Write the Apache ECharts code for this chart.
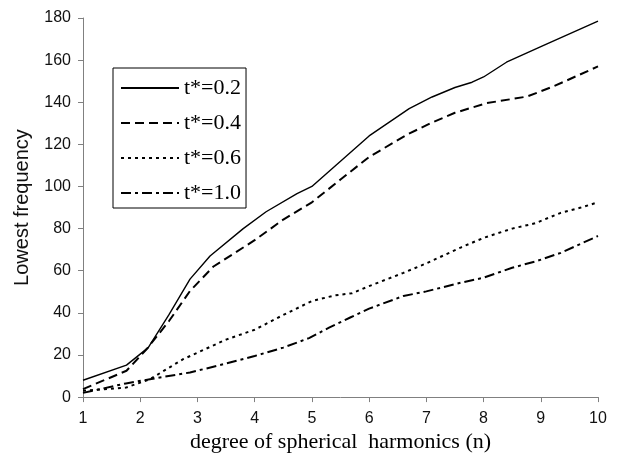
<!DOCTYPE html>
<html>
<head>
<meta charset="utf-8">
<script src="https://cdn.jsdelivr.net/npm/echarts@6/dist/echarts.min.js"></script>
<style>html,body{margin:0;padding:0;background:#fff}#c{width:618px;height:458px}</style>
</head>
<body>
<div id="c"></div>
<script>
const seriesNames = ['t*=0.2', 't*=0.4', 't*=0.6', 't*=1.0'];
const xTicks = [1, 2, 3, 4, 5, 6, 7, 8, 9, 10];
const yTicks = [0, 20, 40, 60, 80, 100, 120, 140, 160, 180];

const n02 = [1, 1.76, 2.14, 2.5, 2.87, 3.22, 3.8, 4.2, 4.74, 5.0, 5.5, 6.0, 6.7, 7.1, 7.5, 7.8, 8.0, 8.4, 9.05, 10];
const f02 = [8, 15.2, 23.5, 39, 56, 67, 80, 88, 96.6, 100, 112, 124, 137, 142.5, 147, 149.5, 152, 159, 167, 178.5];

const n04 = [1, 1.76, 2.11, 2.5, 2.87, 3.28, 4.0, 4.5, 5.0, 5.5, 6.0, 6.66, 7.07, 7.5, 8.06, 8.76, 9.22, 10];
const f04 = [3.8, 12.5, 22.7, 36, 50.4, 62, 74.5, 84.3, 92.5, 103.3, 114, 124.6, 130, 135, 139.6, 142.7, 147.5, 157];

const n06 = [1, 1.75, 2.17, 2.75, 3.5, 4.0, 4.5, 5.0, 5.4, 5.7, 6.0, 6.6, 7.0, 7.6, 8.0, 8.5, 8.9, 9.35, 9.7, 10];
const f06 = [3, 4.5, 8.5, 18, 27.3, 32, 39, 45.6, 48.3, 49.3, 52.7, 59, 63.5, 71, 75.6, 80, 82.5, 87.5, 90, 92.5];

const n10 = [1, 1.75, 2.17, 2.87, 3.34, 4.0, 4.5, 4.95, 5.3, 5.67, 6.0, 6.6, 7.0, 7.6, 8.0, 8.5, 8.93, 9.35, 10];
const f10 = [2, 6.5, 8.5, 11.7, 14.8, 19.5, 23.5, 28, 33, 37.8, 42, 48, 50.2, 54.3, 56.7, 61.4, 64.6, 68.5, 76.5];

const pair = (xs, ys) => xs.map((x, i) => [x, ys[i]]);
const lineStyles = [
  {type: 'solid', width: 1.4},
  {type: [9, 5], width: 2},
  {type: [3, 4], width: 2},
  {type: [10, 4, 3, 4], width: 2}
];
const datas = [pair(n02, f02), pair(n04, f04), pair(n06, f06), pair(n10, f10)];

const chart = echarts.init(document.getElementById('c'), null, {renderer: 'canvas'});
chart.setOption({
  animation: false,
  backgroundColor: '#fff',
  grid: {left: 83, right: 20, top: 18, bottom: 60, containLabel: false},
  legend: {
    show: true,
    orient: 'vertical', left: 113, top: 68,
    data: seriesNames.map(n => ({name: n})),
    backgroundColor: '#fff', borderColor: '#000', borderWidth: 1,
    padding: [9, 5, 4, 7], itemGap: 13, itemWidth: 58, itemHeight: 16,
    itemStyle: {opacity: 0},
    textStyle: {fontFamily: 'Liberation Serif', fontSize: 22, color: '#000'}
  },
  xAxis: {
    type: 'value', min: 1, max: 10, interval: 1,
    name: 'degree of spherical  harmonics (n)', nameLocation: 'middle', nameGap: 22,
    nameTextStyle: {fontFamily: 'Liberation Serif', fontSize: 22, color: '#000'},
    axisLine: {lineStyle: {color: '#808080', width: 1}},
    axisTick: {show: true, inside: false, length: 5, lineStyle: {color: '#808080'}},
    axisLabel: {fontFamily: 'Liberation Sans', fontSize: 16, color: '#111', margin: 13,
      formatter: v => xTicks.includes(v) ? String(v) : ''},
    splitLine: {show: false}
  },
  yAxis: {
    type: 'value', min: 0, max: 180, interval: 20,
    name: 'Lowest frequency', nameLocation: 'middle', nameGap: 51, nameRotate: 90,
    nameTextStyle: {fontFamily: 'Liberation Sans', fontSize: 20, color: '#111'},
    axisLine: {show: true, lineStyle: {color: '#808080', width: 1}},
    axisTick: {show: true, inside: false, length: 5, lineStyle: {color: '#808080'}},
    axisLabel: {fontFamily: 'Liberation Sans', fontSize: 16, color: '#111', margin: 12,
      formatter: v => yTicks.includes(v) ? String(v) : ''},
    splitLine: {show: false}
  },
  series: seriesNames.map((name, i) => ({
    name, type: 'line', data: datas[i], showSymbol: false, symbol: 'none',
    smooth: false, color: '#000',
    lineStyle: Object.assign({color: '#000'}, lineStyles[i]),
    itemStyle: {color: '#000'}
  }))
});
</script>
</body>
</html>
